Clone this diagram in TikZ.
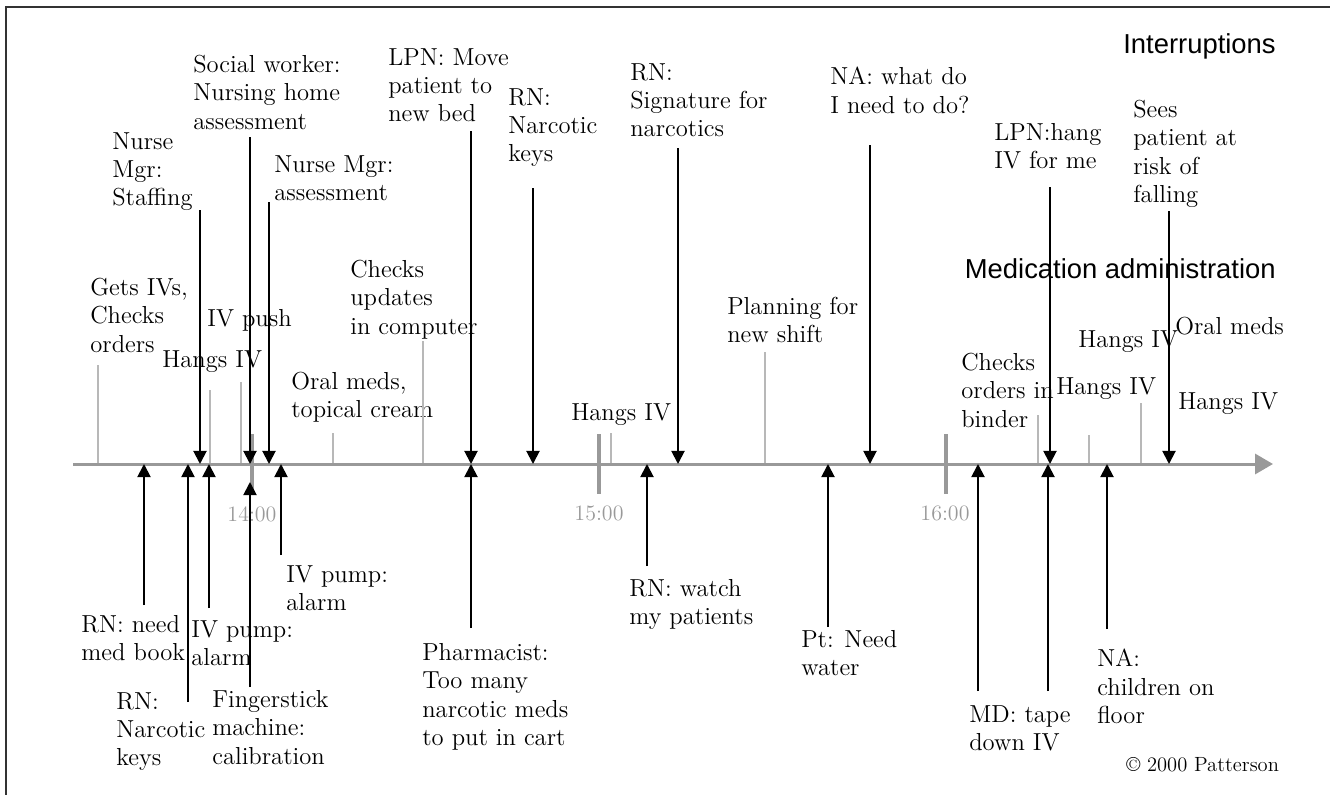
\documentclass[tikz,border=0pt]{standalone}
\usepackage{fontspec}
\newfontfamily\headfont{Liberation Sans}
\usepackage{xcolor}
\usepackage{tikz}
\usetikzlibrary{arrows.meta, positioning}
\definecolor{axisgray}{gray}{0.6}
\definecolor{linegray}{gray}{0.72}
\definecolor{framegray}{gray}{0.2}
\tikzset{
  lbl/.style={anchor=north west, align=left, inner sep=0pt, font=\fontsize{14}{16.1}\selectfont},
  heading/.style={anchor=north east, inner sep=0pt, font=\headfont\fontsize{15.6}{18}\selectfont},
  timelbl/.style={anchor=north, inner sep=0pt, text=axisgray, font=\fontsize{12.5}{14}\selectfont},
  copylbl/.style={anchor=north west, inner sep=0pt, font=\fontsize{11.7}{14}\selectfont},
  intarrow/.style={line width=1.1pt, -{Triangle[width=7.5pt,length=7.5pt]}},
  medline/.style={draw=linegray, line width=0.9pt},
  hourtick/.style={draw=axisgray, line width=2.2pt},
  timeaxis/.style={draw=axisgray, line width=1.7pt, -{Triangle[width=11.4pt,length=10.2pt,fill=axisgray]}},
  frame/.style={draw=framegray, line width=1.1pt}
}

\begin{document}
\begin{tikzpicture}[x=0.02cm, y=-0.02cm]
\useasboundingbox (0,0) rectangle (1330,795);
\coordinate (fbl) at (6,795);
\coordinate (ftl) at (6,7);
\coordinate (ftr) at (1330,7);
\draw[frame] (fbl) -- (ftl) -- (ftr);

\node[heading] (hint) at (1276,33) {Interruptions};
\node[heading] (hmed) at (1276,258) {Medication administration};

% interruptions above the line
\node[lbl] (nms) at (112,132) {Nurse\\Mgr:\\Staffing};
\node[lbl] (sw) at (193,55) {Social worker:\\Nursing home\\assessment};
\node[lbl] (nma) at (274,155) {Nurse Mgr:\\assessment};
\node[lbl] (lpn) at (388,48) {LPN: Move\\patient to\\new bed};
\node[lbl] (rnk) at (508,88) {RN:\\Narcotic\\keys};
\node[lbl] (rns) at (630,63) {RN:\\Signature for\\narcotics};
\node[lbl] (naw) at (830,67) {NA: what do\\I need to do?};
\node[lbl] (lph) at (994,123) {LPN:hang\\IV for me};
\node[lbl] (sees) at (1133,100) {Sees\\patient at\\risk of\\falling};

% medication tasks
\node[lbl] (gets) at (90,278) {Gets IVs,\\Checks\\orders};
\node[lbl] (push) at (207,309) {IV push};
\node[lbl] (hiv1) at (162,350) {Hangs IV};
\node[lbl] (chk) at (350,260) {Checks\\updates\\in computer};
\node[lbl] (oral1) at (291,372) {Oral meds,\\topical cream};
\node[lbl] (hiv2) at (571,403) {Hangs IV};
\node[lbl] (plan) at (727,297) {Planning for\\new shift};
\node[lbl] (bind) at (961,353) {Checks\\orders in\\binder};
\node[lbl] (hiv3) at (1078,330) {Hangs IV};
\node[lbl] (hiv4) at (1056,377) {Hangs IV};
\node[lbl] (oral2) at (1175,317) {Oral meds};
\node[lbl] (hiv5) at (1178,392) {Hangs IV};

% interruptions below the line
\node[lbl] (rnb) at (81,615) {RN: need\\med book};
\node[lbl] (ivp1) at (191,620) {IV pump:\\alarm};
\node[lbl] (rnk2) at (116,692) {RN:\\Narcotic\\keys};
\node[lbl] (fing) at (212,690) {Fingerstick\\machine:\\calibration};
\node[lbl] (ivp2) at (286,565) {IV pump:\\alarm};
\node[lbl] (pharm) at (422,643) {Pharmacist:\\Too many\\narcotic meds\\to put in cart};
\node[lbl] (rnw) at (629,579) {RN: watch\\my patients};
\node[lbl] (pt) at (801,630) {Pt: Need\\water};
\node[lbl] (md) at (969,705) {MD: tape\\down IV};
\node[lbl] (nac) at (1097,649) {NA:\\children on\\floor};

\node[copylbl] (copy) at (1126,757) {© 2000 Patterson};

% time line
\coordinate (axs) at (73,464);
\coordinate (axe) at (1273,464);

\coordinate (m1) at (98,365);
\coordinate (m2) at (210,390);
\coordinate (m3) at (241,382);
\coordinate (m4) at (333,433);
\coordinate (m5) at (423,341);
\coordinate (m6) at (611,433);
\coordinate (m7) at (765,352);
\coordinate (m8) at (1038,415);
\coordinate (m9) at (1089,435);
\coordinate (m10) at (1141,403);
\draw[medline] (m1) -- (m1 |- axs);
\draw[medline] (m2) -- (m2 |- axs);
\draw[medline] (m3) -- (m3 |- axs);
\draw[medline] (m4) -- (m4 |- axs);
\draw[medline] (m5) -- (m5 |- axs);
\draw[medline] (m6) -- (m6 |- axs);
\draw[medline] (m7) -- (m7 |- axs);
\draw[medline] (m8) -- (m8 |- axs);
\draw[medline] (m9) -- (m9 |- axs);
\draw[medline] (m10) -- (m10 |- axs);

\draw[timeaxis] (axs) -- (axe);

\coordinate (t14a) at (252,434); \coordinate (t14b) at (252,494);
\coordinate (t15a) at (599,434); \coordinate (t15b) at (599,494);
\coordinate (t16a) at (946,434); \coordinate (t16b) at (946,494);
\draw[hourtick] (t14a) -- (t14b);
\draw[hourtick] (t15a) -- (t15b);
\draw[hourtick] (t16a) -- (t16b);
\node[timelbl] (l14) at (252,506) {14:00};
\node[timelbl] (l15) at (599,506) {15:00};
\node[timelbl] (l16) at (945,506) {16:00};

% arrows from above
\coordinate (nms-s) at (200,210);
\coordinate (sw-s) at (250,137);
\coordinate (nma-s) at (269,202);
\coordinate (lpn-s) at (471,131);
\coordinate (rnk-s) at (533,188);
\coordinate (rns-s) at (678,148);
\coordinate (naw-s) at (870,145);
\coordinate (lph-s) at (1050,187);
\coordinate (sees-s) at (1169,211);
\draw[intarrow] (nms-s) -- (nms-s |- axs);
\draw[intarrow] (sw-s) -- (sw-s |- axs);
\draw[intarrow] (nma-s) -- (nma-s |- axs);
\draw[intarrow] (lpn-s) -- (lpn-s |- axs);
\draw[intarrow] (rnk-s) -- (rnk-s |- axs);
\draw[intarrow] (rns-s) -- (rns-s |- axs);
\draw[intarrow] (naw-s) -- (naw-s |- axs);
\draw[intarrow] (lph-s) -- (lph-s |- axs);
\draw[intarrow] (sees-s) -- (sees-s |- axs);

% arrows from below
\coordinate (rnb-s) at (144,605);
\coordinate (rnk2-s) at (188,702);
\coordinate (ivp1-s) at (209,608);
\coordinate (fing-s) at (250,687);
\coordinate (fing-e) at (250,482);
\coordinate (ivp2-s) at (281,555);
\coordinate (pharm-s) at (471,628);
\coordinate (rnw-s) at (647,566);
\coordinate (pt-s) at (828,627);
\coordinate (md-s) at (978,691);
\coordinate (md2-s) at (1048,691);
\coordinate (nac-s) at (1107,629);
\draw[intarrow] (rnb-s) -- (rnb-s |- axs);
\draw[intarrow] (rnk2-s) -- (rnk2-s |- axs);
\draw[intarrow] (ivp1-s) -- (ivp1-s |- axs);
\draw[intarrow] (fing-s) -- (fing-e);
\draw[intarrow] (ivp2-s) -- (ivp2-s |- axs);
\draw[intarrow] (pharm-s) -- (pharm-s |- axs);
\draw[intarrow] (rnw-s) -- (rnw-s |- axs);
\draw[intarrow] (pt-s) -- (pt-s |- axs);
\draw[intarrow] (md-s) -- (md-s |- axs);
\draw[intarrow] (md2-s) -- (md2-s |- axs);
\draw[intarrow] (nac-s) -- (nac-s |- axs);
\end{tikzpicture}
\end{document}
